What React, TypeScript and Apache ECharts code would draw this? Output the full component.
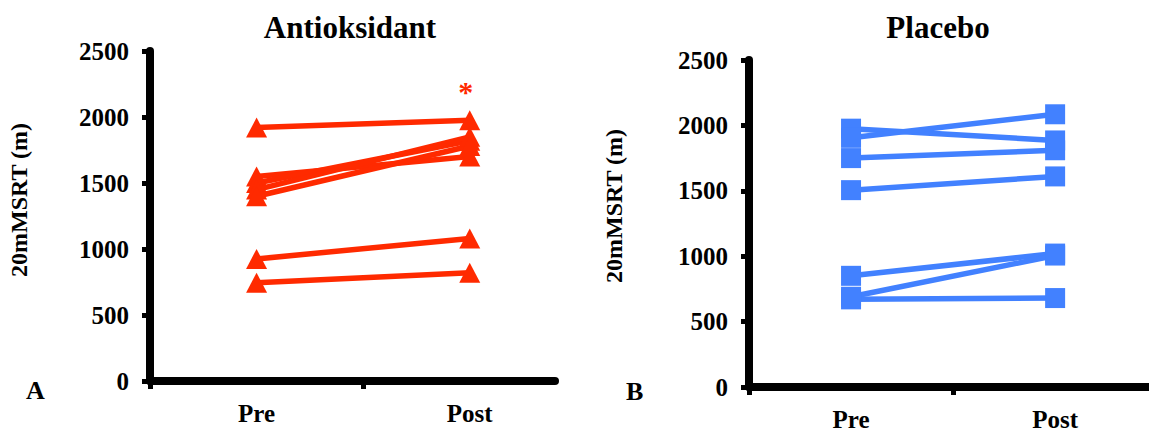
import React, { useEffect, useRef } from "react";
import * as echarts from "echarts";

// Data
const categories = ["Pre", "Post"];
const antioxPre = [1920, 1550, 1500, 1450, 1400, 925, 745];
const antioxPost = [1975, 1700, 1820, 1850, 1780, 1080, 820];
const placeboPre = [1975, 1905, 1750, 1505, 850, 690, 670];
const placeboPost = [1885, 2085, 1810, 1610, 1020, 1005, 680];
const yTicks = [0, 500, 1000, 1500, 2000, 2500];

const RED = "#ff2a00";
const BLUE = "#4281ff";
const FONT = "'Liberation Serif', 'Times New Roman', serif";

export default function App() {
  const ref = useRef<HTMLDivElement>(null);
  useEffect(() => {
    if (!ref.current) return;
    const chart = echarts.init(ref.current, undefined, { renderer: "svg" });

    const yAxisBase = (gridIndex: number, padLeft: number, gap: number) => ({
      type: "value",
      gridIndex,
      min: yTicks[0],
      max: yTicks[yTicks.length - 1],
      interval: 500,
      name: "20mMSRT (m)",
      nameLocation: "middle",
      nameGap: gap,
      nameTextStyle: {
        fontFamily: FONT,
        fontWeight: "bold",
        fontSize: 24,
        color: "#000",
        padding: [0, 0, 0, padLeft],
      },
      axisLine: {
        show: true,
        onZero: false,
        lineStyle: { color: "#000000", width: 8, type: "solid" },
      },
      axisTick: {
        show: true,
        length: 8,
        lineStyle: { color: "#000000", width: 5, type: "solid" },
      },
      axisLabel: {
        margin: 21,
        fontFamily: FONT,
        fontWeight: "bold",
        fontSize: 25,
        color: "#000",
        formatter: (v: number) => String(v),
      },
      splitLine: { show: false },
    });

    const xAxisBase = (gridIndex: number, max: number) => ({
      type: "value",
      gridIndex,
      min: -0.5,
      max,
      axisLine: {
        show: true,
        onZero: false,
        lineStyle: { color: "#000000", width: 8, type: "solid" },
      },
      axisTick: {
        show: true,
        length: 8,
        customValues: [-0.5, 0.5],
        lineStyle: { color: "#000000", width: 5, type: "solid" },
      },
      axisLabel: {
        customValues: [0, 1],
        margin: 20,
        fontFamily: FONT,
        fontWeight: "bold",
        fontSize: 25,
        color: "#000",
        formatter: (v: number) => categories[Math.round(v)] ?? "",
      },
      splitLine: { show: false },
    });

    const series: any[] = [];
    antioxPre.forEach((pre, i) => {
      const s: any = {
        type: "line",
        xAxisIndex: 0,
        yAxisIndex: 0,
        data: [
          [0, pre],
          [1, antioxPost[i]],
        ],
        symbol: "triangle",
        symbolSize: [21, 20],
        itemStyle: { color: RED },
        lineStyle: { color: RED, width: 5.5 },
        z: 2,
      };
      if (i === 0) {
        s.markPoint = {
          symbol: "circle",
          symbolSize: 0,
          data: [{ coord: [1, antioxPost[i]] }],
          label: {
            show: true,
            formatter: "*",
            position: "inside",
            offset: [-4, -29],
            color: RED,
            fontFamily: FONT,
            fontWeight: "bold",
            fontSize: 30,
          },
        };
      }
      series.push(s);
    });
    placeboPre.forEach((pre, i) => {
      series.push({
        type: "line",
        xAxisIndex: 1,
        yAxisIndex: 1,
        data: [
          [0, pre],
          [1, placeboPost[i]],
        ],
        symbol: "rect",
        symbolSize: 20,
        itemStyle: { color: BLUE },
        lineStyle: { color: BLUE, width: 5.5 },
        z: 2,
      });
    });

    chart.setOption({
      animation: false,
      backgroundColor: "#fff",
      title: [
        {
          text: "Antioksidant",
          left: 345,
          top: 7,
          textAlign: "center",
          textStyle: { fontFamily: FONT, fontWeight: "bold", fontSize: 31, color: "#000" },
        },
        {
          text: "Placebo",
          left: 933,
          top: 7,
          textAlign: "center",
          textStyle: { fontFamily: FONT, fontWeight: "bold", fontSize: 31, color: "#000" },
        },
      ],
      grid: [
        { left: 150, top: 51, width: 405, height: 330 },
        { left: 749, top: 60, width: 400, height: 327 },
      ],
      xAxis: [xAxisBase(0, 1.4), xAxisBase(1, 1.46)],
      yAxis: [yAxisBase(0, 32, 119), yAxisBase(1, 35, 123)],
      series,
      graphic: [
        {
          type: "text",
          left: 26,
          top: 377,
          style: { text: "A", fontFamily: FONT, fontWeight: "bold", fontSize: 26, fill: "#000" },
        },
        {
          type: "text",
          left: 626,
          top: 378,
          style: { text: "B", fontFamily: FONT, fontWeight: "bold", fontSize: 26, fill: "#000" },
        },
      ],
    });
    return () => chart.dispose();
  }, []);
  return (
    <div
      ref={ref}
      style={{ position: "fixed", left: 0, top: 0, width: 1149, height: 432 }}
    />
  );
}
